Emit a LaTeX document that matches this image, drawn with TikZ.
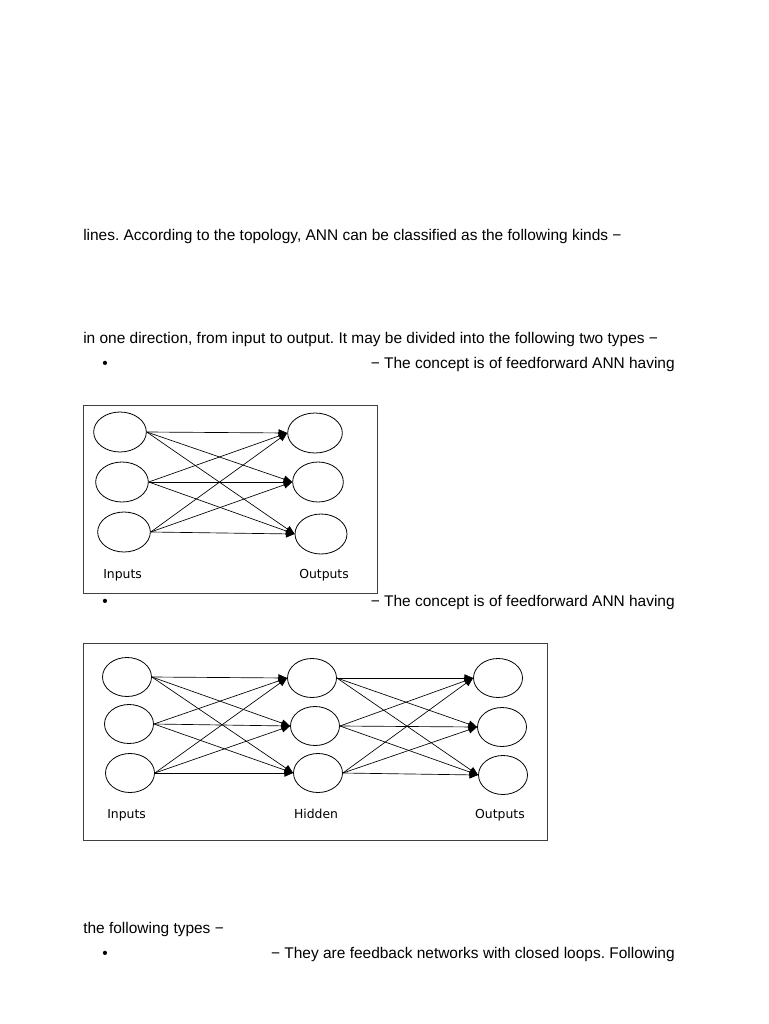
\documentclass[tikz,border=0pt]{standalone}
\usepackage{fontspec}
\setmainfont{Liberation Sans}
\newfontfamily\labfont{DejaVu Sans}
\usetikzlibrary{shapes.geometric,arrows.meta}
\frenchspacing
\begin{document}
\begin{tikzpicture}[x=0.75pt,y=-0.75pt,
 neuron/.style={ellipse,draw,line width=0.6pt,inner sep=0pt,minimum width=39.5pt,minimum height=30pt},
 neuronb/.style={neuron,minimum width=36.75pt,minimum height=29.25pt},
 conn/.style={line width=0.5pt,-{Triangle[length=6.5pt,width=5.5pt]}},
 body/.style={font=\fontsize{11.6}{13}\selectfont,inner sep=0pt,text=black},
 lab/.style={font=\labfont\fontsize{9.3}{11}\selectfont,inner sep=0pt},
 frame/.style={draw=black!75,line width=0.6pt}]
\useasboundingbox[fill=white] (0,0) rectangle (768,1024);

% text lines
\node[body,anchor=base west] (t1) at (83,240) {lines. According to the topology, ANN can be classified as the following kinds −};
\node[body,anchor=base west] (t2) at (83,343) {in one direction, from input to output. It may be divided into the following two types −};
\node[body,anchor=base] (b1) at (105,368) {•};
\node[body,anchor=base east] (t3) at (675,368) {− The concept is of feedforward ANN having};
\node[body,anchor=base] (b2) at (105,606) {•};
\node[body,anchor=base east] (t4) at (675,606) {− The concept is of feedforward ANN having};
\node[body,anchor=base west] (t5) at (83,933) {the following types −};
\node[body,anchor=base] (b3) at (105,958) {•};
\node[body,anchor=base east] (t6) at (675,958) {− They are feedback networks with closed loops. Following};

% figure 1
\draw[frame] (83,405) rectangle (377,593);
\node[neuron] (i1) at (120,432) {};
\node[neuron] (i2) at (122,482) {};
\node[neuron] (i3) at (124,532) {};
\node[neuron,minimum width=41pt] (o1) at (315,433) {};
\node[neuron,minimum width=38pt] (o2) at (318,482) {};
\node[neuron,minimum width=39pt] (o3) at (321,534) {};
\foreach \a in {1,2,3}{\foreach \b in {1,2,3}{\draw[conn] (i\a.east) -- (o\b.west);}}
\node[lab,anchor=base west] (l1) at (103,578) {Inputs};
\node[lab,anchor=base west] (l2) at (299,578) {Outputs};

% figure 2
\draw[frame] (83,643) rectangle (547,840);
\node[neuronb] (p1) at (127,677) {};
\node[neuronb] (p2) at (129,724) {};
\node[neuronb] (p3) at (130,773) {};
\node[neuronb] (h1) at (312,678) {};
\node[neuronb] (h2) at (315,726) {};
\node[neuronb] (h3) at (318,773) {};
\node[neuronb] (q1) at (498,678) {};
\node[neuronb] (q2) at (502,727) {};
\node[neuronb] (q3) at (503,775) {};
\foreach \a in {1,2,3}{\foreach \b in {1,2,3}{\draw[conn] (p\a.east) -- (h\b.west);\draw[conn] (h\a.east) -- (q\b.west);}}
\node[lab,anchor=base west] (m1) at (107,818) {Inputs};
\node[lab,anchor=base] (m2) at (316,818) {Hidden};
\node[lab,anchor=base] (m3) at (500,818) {Outputs};
\end{tikzpicture}
\end{document}
